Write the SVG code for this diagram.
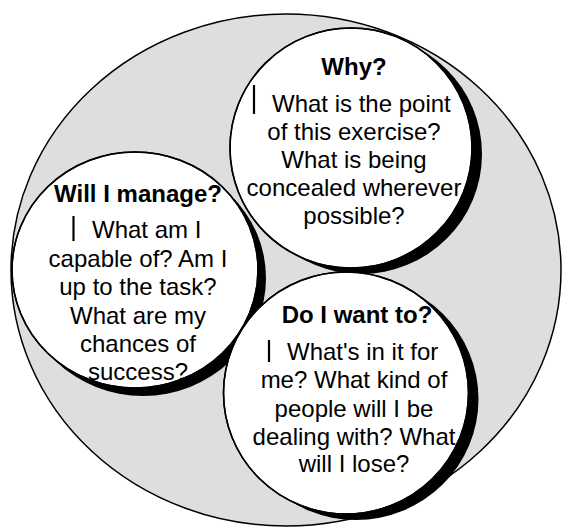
<svg xmlns="http://www.w3.org/2000/svg" width="562" height="528" viewBox="0 0 562 528">
<style>
.bg{fill:#dedede;stroke:#000;stroke-width:1.5}
.disc{fill:#fff;stroke:#000;stroke-width:1.5}
.shadow{fill:#000}
.t{font-family:"Liberation Sans",Arial,sans-serif;font-size:24px;fill:#000}
.c{text-anchor:middle}
.b{font-weight:bold}
.bar{stroke:#000;stroke-width:2.2}
</style>
<defs>
<clipPath id="cWhy"><ellipse cx="351" cy="148" rx="121" ry="120"/></clipPath>
<clipPath id="cWill"><ellipse cx="135" cy="270" rx="123" ry="118"/></clipPath>
<clipPath id="cDo"><ellipse cx="346" cy="393" rx="122.5" ry="121"/></clipPath>
</defs>
<ellipse class="bg" cx="286" cy="270" rx="275" ry="256"/>
<g id="connectors"></g>
<g id="node-why">
<ellipse class="shadow" cx="361" cy="154" rx="121" ry="120"/>
<ellipse class="disc" cx="351" cy="148" rx="121" ry="120"/>
<g clip-path="url(#cWhy)" class="t">
<text class="c b" x="354" y="75">Why?</text>
<line class="bar" x1="254" y1="85" x2="254" y2="114"/>
<text x="272" y="112">What is the point</text>
<text class="c" x="354" y="140">of this exercise?</text>
<text class="c" x="354" y="168">What is being</text>
<text class="c" x="354" y="196">concealed wherever</text>
<text class="c" x="354" y="224">possible?</text>
</g>
<ellipse cx="351" cy="148" rx="121" ry="120" fill="none" stroke="#000" stroke-width="1.5"/>
</g>
<g id="node-will">
<ellipse class="shadow" cx="143" cy="278" rx="123" ry="118"/>
<ellipse class="disc" cx="135" cy="270" rx="123" ry="118"/>
<g clip-path="url(#cWill)" class="t">
<text class="c b" x="138" y="202">Will I manage?</text>
<line class="bar" x1="73.5" y1="216" x2="73.5" y2="241"/>
<text x="92" y="238">What am I</text>
<text class="c" x="138" y="267">capable of? Am I</text>
<text class="c" x="138" y="295">up to the task?</text>
<text class="c" x="138" y="324">What are my</text>
<text class="c" x="138" y="352">chances of</text>
<text class="c" x="138" y="380">success?</text>
</g>
<ellipse cx="135" cy="270" rx="123" ry="118" fill="none" stroke="#000" stroke-width="1.5"/>
</g>
<g id="node-do">
<ellipse class="shadow" cx="356" cy="399" rx="122.5" ry="121"/>
<ellipse class="disc" cx="346" cy="393" rx="122.5" ry="121"/>
<g clip-path="url(#cDo)" class="t">
<text class="c b" x="357" y="323">Do I want to?</text>
<line class="bar" x1="269" y1="340" x2="269" y2="362"/>
<text x="287" y="360">What's in it for</text>
<text class="c" x="354" y="388">me? What kind of</text>
<text class="c" x="354" y="417">people will I be</text>
<text class="c" x="354" y="445">dealing with? What</text>
<text class="c" x="354" y="472">will I lose?</text>
</g>
<ellipse cx="346" cy="393" rx="122.5" ry="121" fill="none" stroke="#000" stroke-width="1.5"/>
</g>
</svg>
